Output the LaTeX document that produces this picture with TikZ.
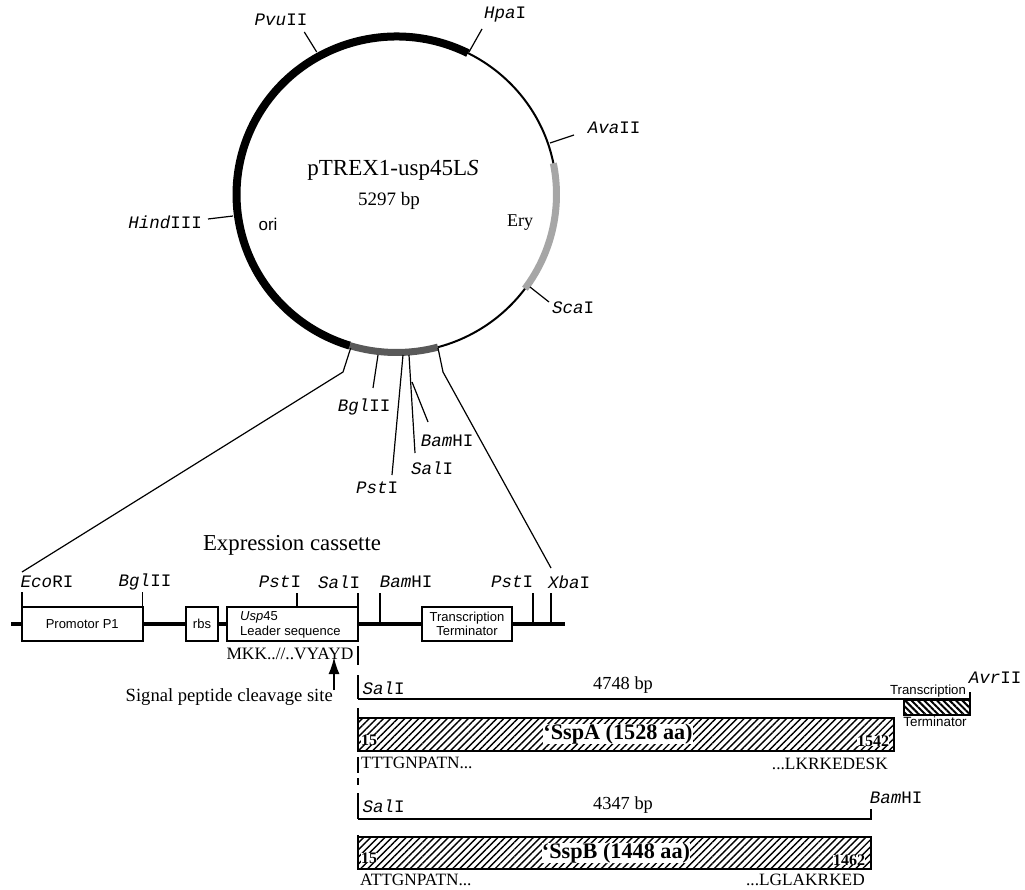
\documentclass[tikz,border=0pt]{standalone}
\usepackage{fontspec}
\setmainfont{Liberation Serif}
\setsansfont{Liberation Sans}
\setmonofont{Liberation Mono}
\usetikzlibrary{patterns.meta,arrows.meta}
\newcommand{\fsz}[1]{\fontsize{#1}{#1}\selectfont}
\tikzset{
	site/.style={font=\ttfamily\fsz{17.5},inner sep=0pt},
	serif/.style={font=\fsz{#1},inner sep=0pt},
	sans/.style={font=\sffamily\fsz{#1},inner sep=0pt},
	cassbox/.style={draw,line width=2pt,fill=white,minimum height=34pt,inner sep=0pt,align=center,font=\sffamily\fsz{13}},
	orfbox/.style={draw,line width=2pt,pattern={Lines[angle=45,distance=5pt,line width=1.4pt]}},
	aatext/.style={font=\bfseries\fsz{22.2},fill=white,inner sep=0pt},
	aanum/.style={font=\bfseries\fsz{16},fill=white,inner sep=0pt}
}
\begin{document}
\begin{tikzpicture}[x=1pt,y=1pt]
	\useasboundingbox (0,0) rectangle (1025,-890);
	% plasmid
	\coordinate (c) at (396.5,-194.5);
	\draw[line width=2pt] (c) circle[x radius=160pt,y radius=158pt];
	\draw[line width=8pt] (c) ++(63.5:160 and 158) arc[start angle=63.5,end angle=253,x radius=160pt,y radius=158pt];
	\draw[line width=7pt,black!65] (c) ++(253:160 and 158) arc[start angle=253,end angle=285,x radius=160pt,y radius=158pt];
	\draw[line width=7pt,black!35] (c) ++(11.4:160 and 158) arc[start angle=11.4,end angle=-36.6,x radius=160pt,y radius=158pt];
	\node[serif=23] (title) at (393,-170) {pTREX1-usp45L\textit{S}};
	\node[serif=19] (size) at (389,-201) {5297 bp};
	\node[sans=17] (ori) at (268,-224) {ori};
	\node[serif=18] (ery) at (520,-223) {Ery};
	% sites round the plasmid
	\foreach \xa/\ya/\xb/\yb in {316.7/52/304.3/32, 469/52/482/29, 550/143/574/135, 233/216/208/219, 530/287/549/302, 378/355/373/388, 403/355/392/475, 409/355/415/453, 412/382/428/422}
	\draw[line width=1.2pt] (\xa,-\ya)--(\xb,-\yb);
	\foreach \x/\y/\nm/\lab in {281/20/pvu/{\textit{Pvu}II}, 505/15/hpa/{\textit{Hpa}I}, 614/128/ava/{\textit{Ava}II}, 573/308/sca/{\textit{Sca}I}, 364/407/bgl/{\textit{Bgl}II}, 377/488/pst/{\textit{Pst}I}, 432/468/sal/{\textit{Sal}I}, 447/441/bam/{\textit{Bam}HI}}
	\node[site] (\nm) at (\x,-\y) {\lab};
	\node[site,anchor=east] (hind) at (202,-222) {\textit{Hind}III};
	% zoom lines
	\draw[line width=1.2pt] (350.7,-348)--(343,-372)--(22,-572);
	\draw[line width=1.2pt] (438,-348)--(443,-372)--(551,-568);
	% cassette
	\node[serif=22.8] (cass) at (292,-545) {Expression cassette};
	\draw[line width=4pt] (11,-624)--(565,-624);
	\foreach \x in {297,380,533,551}
	\draw[line width=2pt] (\x,-593)--(\x,-624);
	\foreach \x in {22,142.5}
	\draw[line width=1.2pt] (\x,-592)--(\x,-624);
	\node[cassbox,minimum width=120.5pt] (prom) at (82.25,-624) {Promotor P1};
	\node[cassbox,minimum width=32pt] (rbs) at (202,-624) {rbs};
	\node[cassbox,minimum width=131pt] (lead) at (292.5,-624) {};
	\node[sans=13,anchor=west] (usp) at (240,-617) {\textit{Usp}45};
	\node[sans=13,anchor=west] (seq) at (240,-632) {Leader sequence};
	\node[cassbox,minimum width=90pt] (term) at (467,-624) {Transcription\\[1pt]Terminator};
	\foreach \x/\nm/\lab in {47/eco/{\textit{Eco}RI}, 145/bglb/{\textit{Bgl}II}, 280/pstb/{\textit{Pst}I}, 339/salb/{\textit{Sal}I}, 406/bamb/{\textit{Bam}HI}, 512/pstc/{\textit{Pst}I}, 569/xba/{\textit{Xba}I}}
	\node[site] (\nm) at (\x,-582) {\lab};
	\node[serif=17.4] (mkk) at (290,-654) {MKK..//..VYAYD};
	\node[serif=18.6,anchor=east] (cleave) at (333,-697) {Signal peptide cleavage site};
	\coordinate (tip) at (334,-657);
	\draw[line width=2pt,-{Latex[length=17pt,width=11pt]}] (334,-690)--(tip);
	% broken line down from the SalI site
	\foreach \ya/\yb in {593/641, 646/665, 675/699, 708/751, 757/773, 778/785, 793/819, 835/869}
	\draw[line width=2pt] (358,-\ya)--(358,-\yb);
	% SspA
	\draw[line width=2pt] (358,-699)--(970,-699)--(970,-692);
	\draw[line width=2pt,pattern={Lines[angle=-45,distance=4.5pt,line width=2pt]}] (904,-700) rectangle (970,-715);
	\draw[orfbox] (358,-718) rectangle (894,-751);
	\node[site] (sala) at (383.5,-688) {\textit{Sal}I};
	\node[serif=18.4] (bpa) at (623,-685) {4748 bp};
	\node[sans=13.2] (tra) at (928,-691) {Transcription};
	\node[sans=13.4] (tea) at (935,-722) {Terminator};
	\node[site] (avr) at (995,-678) {\textit{Avr}II};
	\node[aatext] (sspa) at (618,-734) {`SspA (1528 aa)};
	\node[aanum] (na) at (369,-740) {15};
	\node[aanum] (ea) at (873,-741) {1542};
	\node[serif=17.3,anchor=west] (ta) at (361,-763) {TTTGNPATN...};
	\node[serif=17.3,anchor=east] (tb) at (888,-764) {...LKRKEDESK};
	% SspB
	\draw[line width=2pt] (358,-819)--(871,-819)--(871,-809);
	\draw[orfbox] (358,-837) rectangle (871,-869);
	\node[site] (salc) at (383.5,-806) {\textit{Sal}I};
	\node[serif=18.4] (bpb) at (623,-805) {4347 bp};
	\node[site] (bamc) at (896,-798) {\textit{Bam}HI};
	\node[aatext] (sspb) at (616,-853) {`SspB (1448 aa)};
	\node[aanum] (nb) at (369,-858) {15};
	\node[aanum] (eb) at (849,-860) {1462};
	\node[serif=17.3,anchor=west] (tc) at (360,-880) {ATTGNPATN...};
	\node[serif=17.3,anchor=east] (td) at (865,-880) {...LGLAKRKED};
\end{tikzpicture}
\end{document}
